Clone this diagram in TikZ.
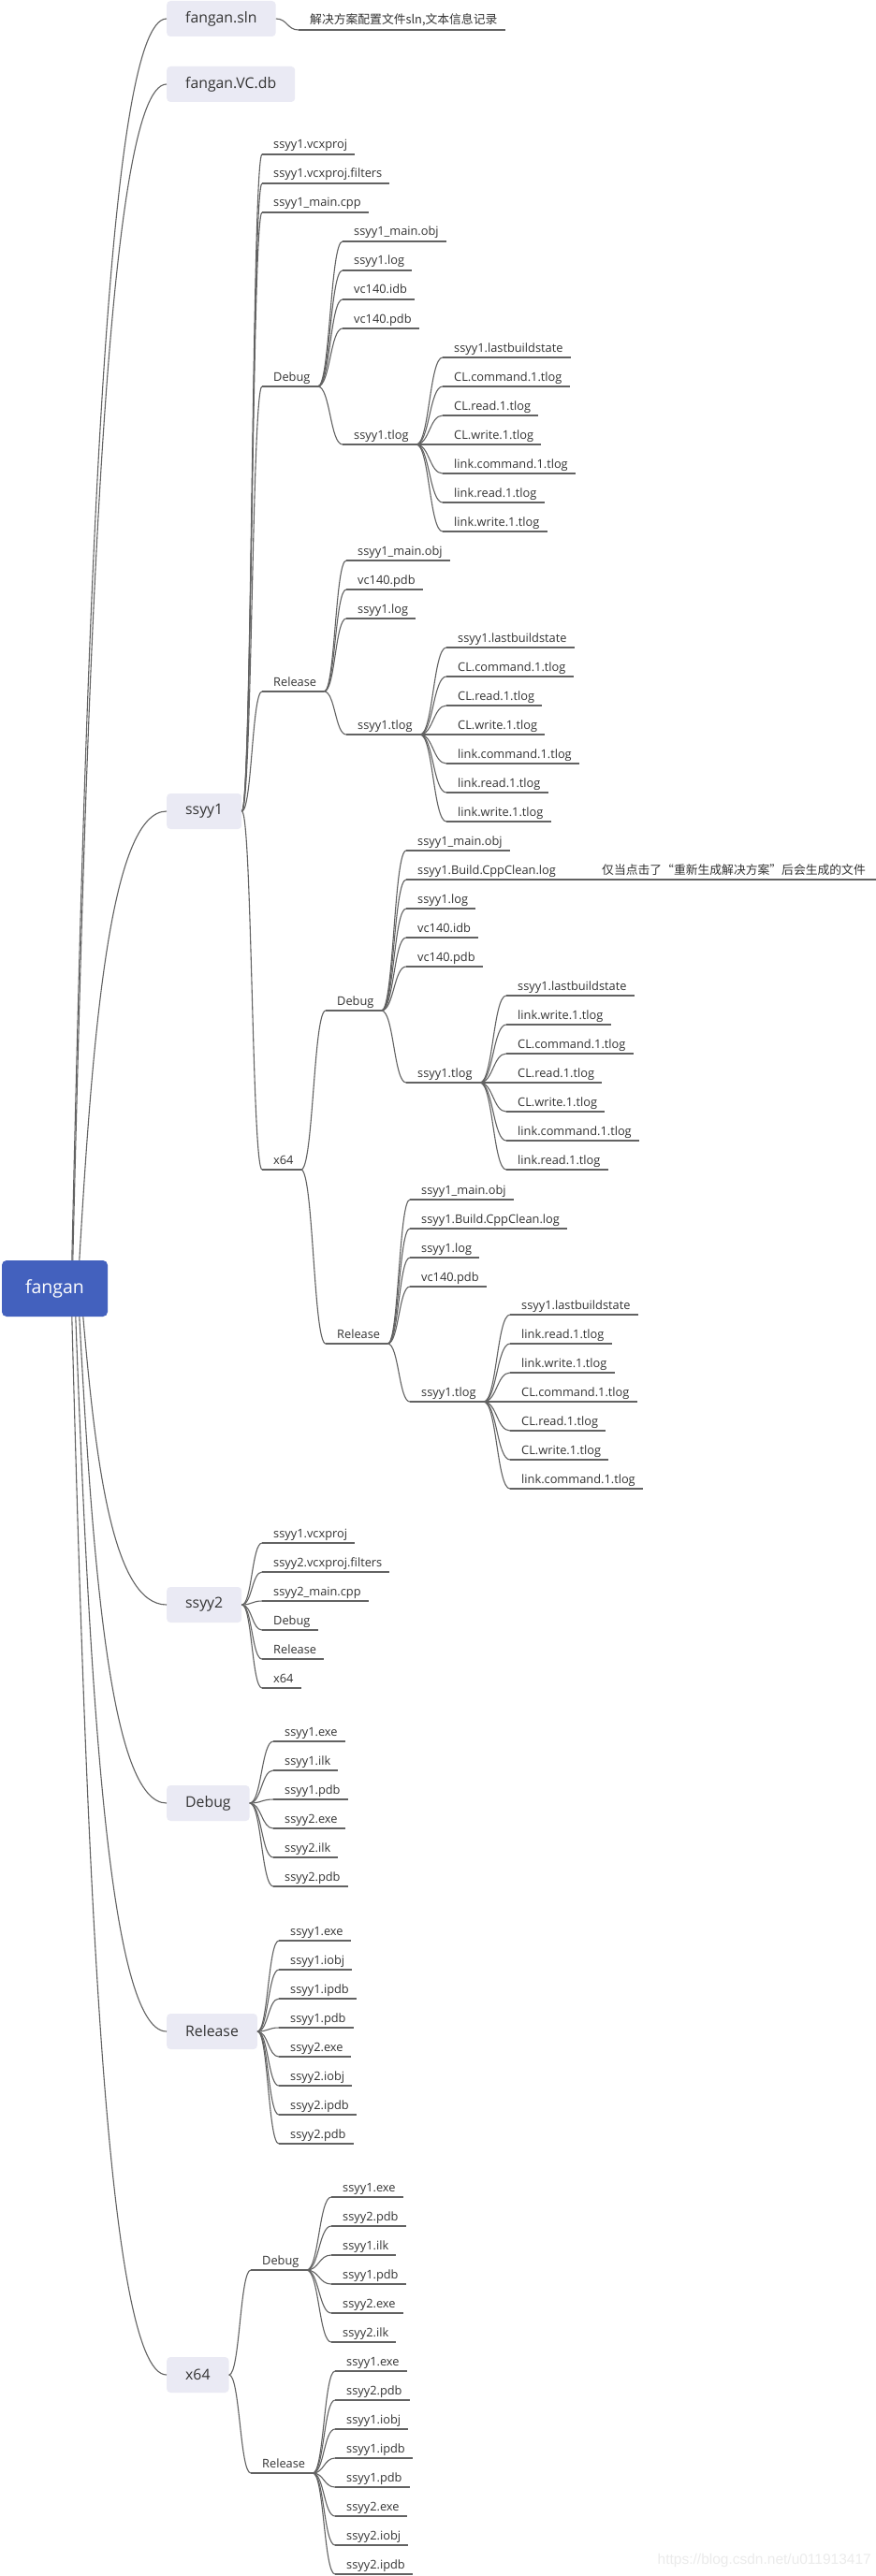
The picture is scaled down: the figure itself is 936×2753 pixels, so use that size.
\documentclass[tikz,border=0pt]{standalone}
\usepackage{fontspec}
\setmainfont{Open Sans}
\newfontfamily\cjk{Noto Sans CJK SC}
\newfontfamily\wmfont{Liberation Sans}
\usetikzlibrary{calc}
\definecolor{txt}{HTML}{333333}
\definecolor{ln}{HTML}{626262}
\definecolor{boxbg}{HTML}{EAEAF4}
\definecolor{rootbg}{HTML}{4361BE}
\definecolor{wmc}{HTML}{EBEBEB}
\tikzset{
  x=1pt, y=-1pt,
  lbl/.style={anchor=base west, inner sep=0pt, font=\fontsize{12.8}{14}\selectfont, text=txt},
  uline/.style={draw=ln, line width=1.1pt},
  link/.style={draw=ln, line width=1.1pt,
    to path={let \p1=(\tikztostart), \p2=(\tikztotarget) in
      .. controls ({\x1+0.5*(\x2-\x1)},\y1) and ({\x1+0.5*(\x2-\x1)},\y2) .. (\tikztotarget)}},
  rootlink/.style={draw=ln, line width=1.1pt,
    to path={let \p1=(\tikztostart), \p2=(\tikztotarget) in
      .. controls ({\x1+0.15*(\x2-\x1)},{\y1+0.5*(\y2-\y1)}) and ({\x1+0.35*(\x2-\x1)},\y2) .. (\tikztotarget)}},
  box/.style={anchor=west, fill=boxbg, rounded corners=4pt, minimum height=38pt,
    inner xsep=20pt, inner ysep=0pt, text=txt, font=\fontsize{15.8}{18}\selectfont},
  rootbox/.style={fill=rootbg, rounded corners=5pt, minimum width=113pt, minimum height=60pt,
    inner sep=0pt, text=white, font=\fontsize{19.5}{22}\selectfont},
}
\newcommand\tp[4]{%
  \node[lbl] (#1) at (#2,#3-6) {#4};
  \coordinate (#1-s) at (#2-12,#3);
  \path (#1-s -| #1.east) ++(8,0) coordinate (#1-e);
  \draw[uline] (#1-s) -- (#1-e);
}
\newcommand\grp[3]{\foreach \myy/\mytx [count=\ii] in {#3} {\tp{#1\ii}{#2}{\myy}{\mytx}}}
\newcommand\kids[3]{\foreach \ii in {1,...,#3} {\draw[link] (#1-e) to (#2\ii-s);}}
\begin{document}
\begin{tikzpicture}
\fill[white] (0,0) rectangle (936,2753);
\useasboundingbox (0,0) rectangle (936,2753);

% level 1 boxes
\node[box] (sln) at (178,20) {fangan.sln};
\node[box] (vcdb) at (178,90) {fangan.VC.db};
\node[box] (p1) at (178,867) {ssyy1};
\node[box] (p2) at (178,1715) {ssyy2};
\node[box] (dbg) at (178,1927) {Debug};
\node[box] (rel) at (178,2171) {Release};
\node[box] (x64) at (178,2538) {x64};
\node[rootbox] (root) at (58.5,1377) {fangan};
\foreach \b in {sln,vcdb,p1,p2,dbg,rel,x64} {\coordinate (\b-e) at (\b.east);}

% root connectors
\draw[rootlink] ([xshift=75pt]root.north west) to (sln.west);
\draw[rootlink] ([xshift=76pt]root.north west) to (vcdb.west);
\draw[rootlink] ([xshift=83pt]root.north west) to (p1.west);
\draw[rootlink] ([xshift=87pt]root.south west) to (p2.west);
\draw[rootlink] ([xshift=83pt]root.south west) to (dbg.west);
\draw[rootlink] ([xshift=79pt]root.south west) to (rel.west);
\draw[rootlink] ([xshift=75pt]root.south west) to (x64.west);

% fangan.sln note
\tp{sn}{331}{32}{\cjk 解决方案配置文件sln,文本信息记录}
\draw[link] (sln-e) to (sn-s);

% ssyy1
\grp{a}{292}{165/ssyy1.vcxproj, 196/ssyy1.vcxproj.filters, 227/ssyy1\_main.cpp, 413/Debug, 739/Release, 1250/x64}
\kids{p1}{a}{6}
% ssyy1 / Debug
\grp{ad}{378}{258/ssyy1\_main.obj, 289/ssyy1.log, 320/vc140.idb, 351/vc140.pdb, 475/ssyy1.tlog}
\kids{a4}{ad}{5}
\grp{adt}{485}{382/ssyy1.lastbuildstate, 413/CL.command.1.tlog, 444/CL.read.1.tlog, 475/CL.write.1.tlog, 506/link.command.1.tlog, 537/link.read.1.tlog, 568/link.write.1.tlog}
\kids{ad5}{adt}{7}
% ssyy1 / Release
\grp{ar}{382}{599/ssyy1\_main.obj, 630/vc140.pdb, 661/ssyy1.log, 785/ssyy1.tlog}
\kids{a5}{ar}{4}
\grp{art}{489}{692/ssyy1.lastbuildstate, 723/CL.command.1.tlog, 754/CL.read.1.tlog, 785/CL.write.1.tlog, 816/link.command.1.tlog, 847/link.read.1.tlog, 878/link.write.1.tlog}
\kids{ar4}{art}{7}
% ssyy1 / x64
\grp{ax}{360}{1080/Debug, 1436/Release}
\kids{a6}{ax}{2}
\grp{axd}{446}{909/ssyy1\_main.obj, 940/ssyy1.Build.CppClean.log, 971/ssyy1.log, 1002/vc140.idb, 1033/vc140.pdb, 1157/ssyy1.tlog}
\kids{ax1}{axd}{6}
\node[lbl] (axdn) at (643,934) {\cjk 仅当点击了“重新生成解决方案”后会生成的文件};
\coordinate (axdn-s) at (631,940);
\coordinate (axdn-e) at (936,940);
\draw[uline] (axd2-e) -- (axdn-s);
\draw[uline] (axdn-s) -- (axdn-e);
\grp{axdt}{553}{1064/ssyy1.lastbuildstate, 1095/link.write.1.tlog, 1126/CL.command.1.tlog, 1157/CL.read.1.tlog, 1188/CL.write.1.tlog, 1219/link.command.1.tlog, 1250/link.read.1.tlog}
\kids{axd6}{axdt}{7}
\grp{axr}{450}{1282/ssyy1\_main.obj, 1313/ssyy1.Build.CppClean.log, 1344/ssyy1.log, 1375/vc140.pdb, 1498/ssyy1.tlog}
\kids{ax2}{axr}{5}
\grp{axrt}{557}{1405/ssyy1.lastbuildstate, 1436/link.read.1.tlog, 1467/link.write.1.tlog, 1498/CL.command.1.tlog, 1529/CL.read.1.tlog, 1560/CL.write.1.tlog, 1591/link.command.1.tlog}
\kids{axr5}{axrt}{7}

% ssyy2
\grp{b}{292}{1649/ssyy1.vcxproj, 1680/ssyy2.vcxproj.filters, 1711/ssyy2\_main.cpp, 1742/Debug, 1773/Release, 1804/x64}
\kids{p2}{b}{6}

% Debug
\grp{c}{304}{1861/ssyy1.exe, 1892/ssyy1.ilk, 1923/ssyy1.pdb, 1954/ssyy2.exe, 1985/ssyy2.ilk, 2016/ssyy2.pdb}
\kids{dbg}{c}{6}

% Release
\grp{d}{310}{2074/ssyy1.exe, 2105/ssyy1.iobj, 2136/ssyy1.ipdb, 2167/ssyy1.pdb, 2198/ssyy2.exe, 2229/ssyy2.iobj, 2260/ssyy2.ipdb, 2291/ssyy2.pdb}
\kids{rel}{d}{8}

% x64
\grp{e}{280}{2426/Debug, 2643/Release}
\kids{x64}{e}{2}
\grp{ed}{366}{2348/ssyy1.exe, 2379/ssyy2.pdb, 2410/ssyy1.ilk, 2441/ssyy1.pdb, 2472/ssyy2.exe, 2503/ssyy2.ilk}
\kids{e1}{ed}{6}
\grp{er}{370}{2534/ssyy1.exe, 2565/ssyy2.pdb, 2596/ssyy1.iobj, 2627/ssyy1.ipdb, 2658/ssyy1.pdb, 2689/ssyy2.exe, 2720/ssyy2.iobj, 2751/ssyy2.ipdb}
\kids{e2}{er}{8}

% watermark
\node[anchor=east, inner sep=0pt, text=wmc, font=\wmfont\fontsize{15.5}{17}\selectfont] (wmark) at (931,2736) {https://blog.csdn.net/u011913417};
\end{tikzpicture}
\end{document}
